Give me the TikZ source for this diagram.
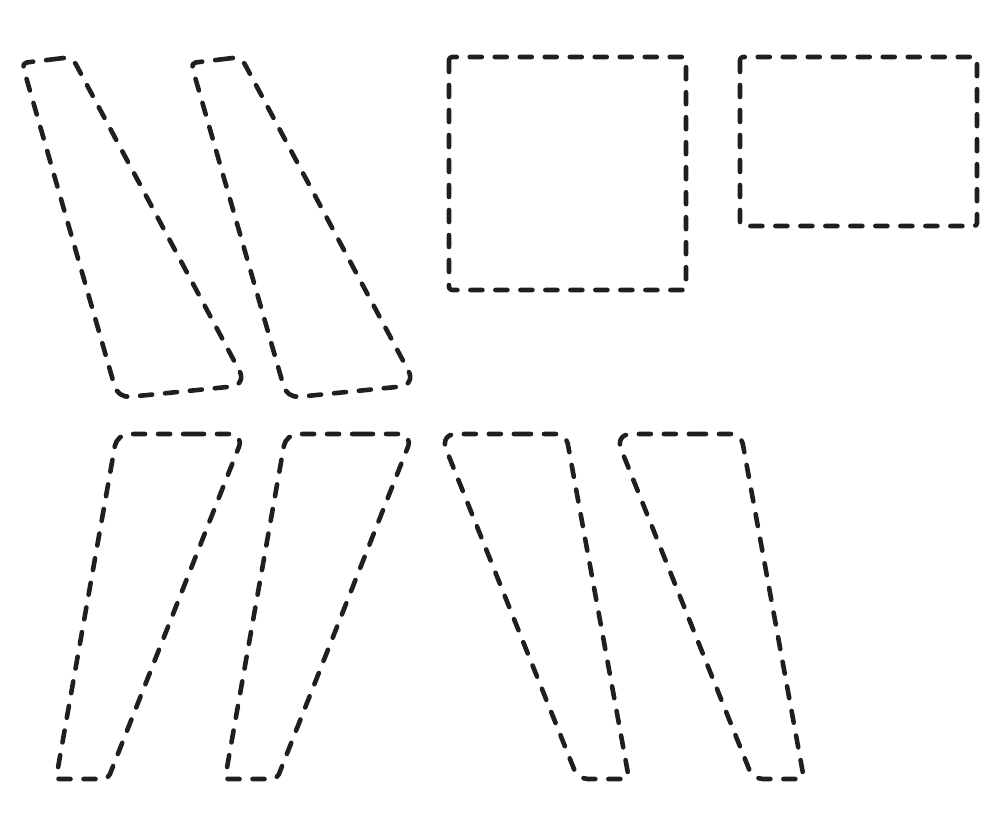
\documentclass[tikz,border=0pt]{standalone}
\newcommand\topblade{%
  \draw[dashline] (47,60) [rounded corners=8pt] -- (72,57) [rounded corners=16pt] -- (247,385) [rounded corners=12pt] -- (118,398) [rounded corners=5pt] -- (22,63) -- cycle;}
\newcommand\leftblade{%
  \draw[dashline] (180,434) [rounded corners=14pt] -- (244,434) [rounded corners=5pt] -- (108,779) [rounded corners=3pt] -- (56,779) [rounded corners=12pt] -- (117,434) -- cycle;}
\newcommand\rightblade{%
  \draw[dashline] (503,434) [rounded corners=10pt] -- (566,434) [rounded corners=5pt] -- (629,779) [rounded corners=10pt] -- (578,779) [rounded corners=16pt] -- (440,434) -- cycle;}
\begin{document}
\begin{tikzpicture}[x=1pt,y=-1pt,
  dashline/.style={draw=black!88, line width=4.6pt, dash pattern=on 12pt off 13pt, line cap=round, line join=round}]
\useasboundingbox (0,0) rectangle (1001,837);
% top row blades
\topblade
\begin{scope}[xshift=169pt]\topblade\end{scope}
% rectangles
\draw[dashline, rounded corners=3pt] (449,57) rectangle (686,290);
\draw[dashline, rounded corners=3pt] (740,57) rectangle (977,226);
% bottom row
\leftblade
\begin{scope}[xshift=169pt]\leftblade\end{scope}
\rightblade
\begin{scope}[xshift=175pt]\rightblade\end{scope}
\end{tikzpicture}
\end{document}
